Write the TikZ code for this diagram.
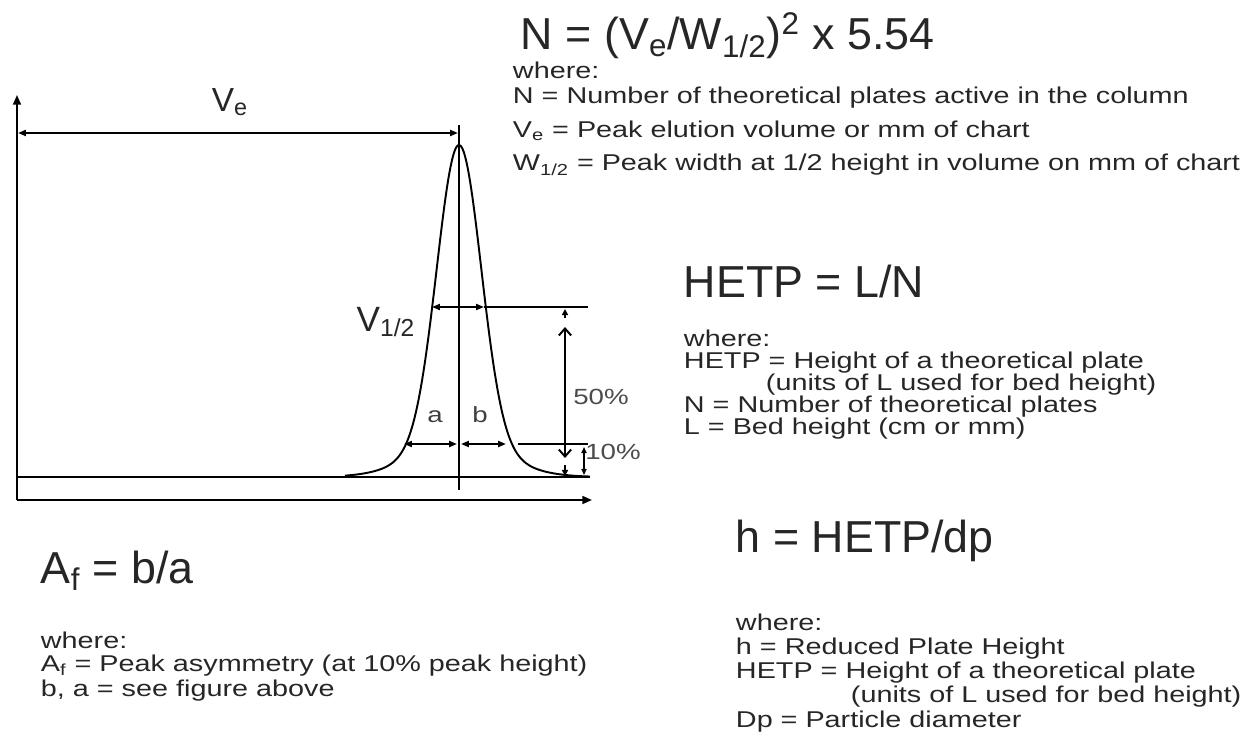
\documentclass[tikz,border=0pt]{standalone}
\usepackage{fontspec}
\setmainfont{Liberation Sans}[FakeStretch=1.26]
\newfontfamily\bigfont{Liberation Sans}
\usetikzlibrary{arrows.meta}

\newcommand{\smalltxt}{\fontsize{13}{15}\selectfont}
\newcommand{\bigtxt}{\bigfont\fontsize{25.5}{30}\selectfont}

\tikzset{
    txt/.style={anchor=base west, inner sep=0pt, text=black!85},
    dim/.style={{Triangle[length=4.5pt,width=3.4pt]}-{Triangle[length=4.5pt,width=3.4pt]}},
    axis/.style={-{Triangle[length=5.5pt,width=4.5pt]}},
}

\begin{document}
\begin{tikzpicture}[x=0.02cm, y=-0.02cm, line width=1.1pt]
    \useasboundingbox (0,0) rectangle (1241,750);

    % Axes
    \coordinate (O) at (17,500);
    \coordinate (Ytop) at (17,95);
    \coordinate (Xend) at (592,500);
    \draw[axis] (O) -- (Ytop);
    \draw[axis] (O) -- (Xend);

    % Base line
    \coordinate (B0) at (17,477);
    \coordinate (B1) at (590,477);
    \draw (B0) -- (B1);

    % Peak and its centre line
    \draw plot[domain=345:590, samples=160, smooth]
        (\x, {477-332*(0.9*exp(-((\x-459)/10)^2/9.68)+0.1*exp(-((\x-459)/10)^2/40.5))});
    \coordinate (Ptop) at (459,125);
    \coordinate (Pbot) at (459,490);
    \draw (Ptop) -- (Pbot);

    % Elution volume
    \coordinate (VeL) at (18,133);
    \coordinate (VeR) at (458,133);
    \draw[dim] (VeL) -- (VeR);
    \node[inner sep=0pt, text=black!85] (ve) at (230,102) {\bigfont\fontsize{19}{21}\selectfont V\textsubscript{e}};

    % Width at half height
    \coordinate (HL) at (432,307);
    \coordinate (HR) at (484,307);
    \coordinate (HE) at (588,307);
    \draw[dim] (HL) -- (HR);
    \draw (HR) -- (HE);
    \node[inner sep=0pt, text=black!85] (vhalf) at (386,322) {\bigfont\fontsize{20}{22}\selectfont V\textsubscript{1/2}};

    % Width at 10% height
    \coordinate (AL) at (404,444);
    \coordinate (AR) at (457,444);
    \coordinate (BL) at (461,444);
    \coordinate (BR) at (506,444);
    \coordinate (TL) at (518,444);
    \coordinate (TR) at (588,444);
    \draw[dim] (AL) -- (AR);
    \draw[dim] (BL) -- (BR);
    \draw (TL) -- (TR);
    \node[inner sep=0pt, text=black!75] (a) at (435,417) {\fontsize{12.5}{14}\selectfont a};
    \node[inner sep=0pt, text=black!75] (b) at (480,415) {\fontsize{12.5}{14}\selectfont b};

    % 50% and 10% heights
    \coordinate (M0) at (565,318);
    \coordinate (M1) at (565,309);
    \coordinate (M2) at (565,327);
    \coordinate (M3) at (565,458);
    \coordinate (M4) at (565,465);
    \coordinate (M5) at (565,476);
    \draw[-{Triangle[length=3.5pt,width=3.5pt]}] (M0) -- (M1);
    \draw[{Straight Barb[length=4pt,width=7pt]}-{Straight Barb[length=4pt,width=7pt]}] (M2) -- (M3);
    \draw[-{Triangle[length=3.5pt,width=3.5pt]}] (M4) -- (M5);
    \coordinate (T0) at (584,447);
    \coordinate (T1) at (584,475);
    \draw[{Triangle[length=3.5pt,width=3pt]}-{Triangle[length=3.5pt,width=3pt]}] (T0) -- (T1);
    \node[inner sep=0pt, text=black!70] (fifty) at (601,397) {\fontsize{12.5}{14}\selectfont 50\%};
    \node[inner sep=0pt, text=black!70] (ten) at (613,452) {\fontsize{12.5}{14}\selectfont 10\%};

    % Plate number
    \node[txt] (nform) at (520,50) {\bigtxt N = (V\textsubscript{e}/W\textsubscript{1/2})\textsuperscript{2} x 5.54};
    \node[txt] (nwhere) at (512,79) {\smalltxt where:};
    \node[txt] (nN) at (512,104) {\smalltxt N = Number of theoretical plates active in the column};
    \node[txt] (nVe) at (512,137) {\smalltxt V\textsubscript{e} = Peak elution volume or mm of chart};
    \node[txt] (nW) at (512,171) {\smalltxt W\textsubscript{1/2} = Peak width at 1/2 height in volume on mm of chart};

    % HETP
    \node[txt] (hform) at (683,297) {\bigtxt HETP = L/N};
    \node[txt] (hwhere) at (683,346) {\smalltxt where:};
    \node[txt] (hH) at (683,368) {\smalltxt HETP = Height of a theoretical plate};
    \node[txt] (hU) at (765,390) {\smalltxt (units of L used for bed height)};
    \node[txt] (hN) at (683,412) {\smalltxt N = Number of theoretical plates};
    \node[txt] (hL) at (683,434) {\smalltxt L = Bed height (cm or mm)};

    % Reduced plate height
    \node[txt] (rform) at (735,552) {\bigtxt h = HETP/dp};
    \node[txt] (rwhere) at (735,630) {\smalltxt where:};
    \node[txt] (rh) at (735,654) {\smalltxt h = Reduced Plate Height};
    \node[txt] (rH) at (735,678) {\smalltxt HETP = Height of a theoretical plate};
    \node[txt] (rU) at (850,702) {\smalltxt (units of L used for bed height)};
    \node[txt] (rD) at (735,727) {\smalltxt Dp = Particle diameter};

    % Asymmetry
    \node[txt] (aform) at (40,583) {\bigtxt A\textsubscript{f} = b/a};
    \node[txt] (awhere) at (40,648) {\smalltxt where:};
    \node[txt] (aA) at (40,671) {\smalltxt A\textsubscript{f} = Peak asymmetry (at 10\% peak height)};
    \node[txt] (aB) at (40,696) {\smalltxt b, a = see figure above};
\end{tikzpicture}
\end{document}
